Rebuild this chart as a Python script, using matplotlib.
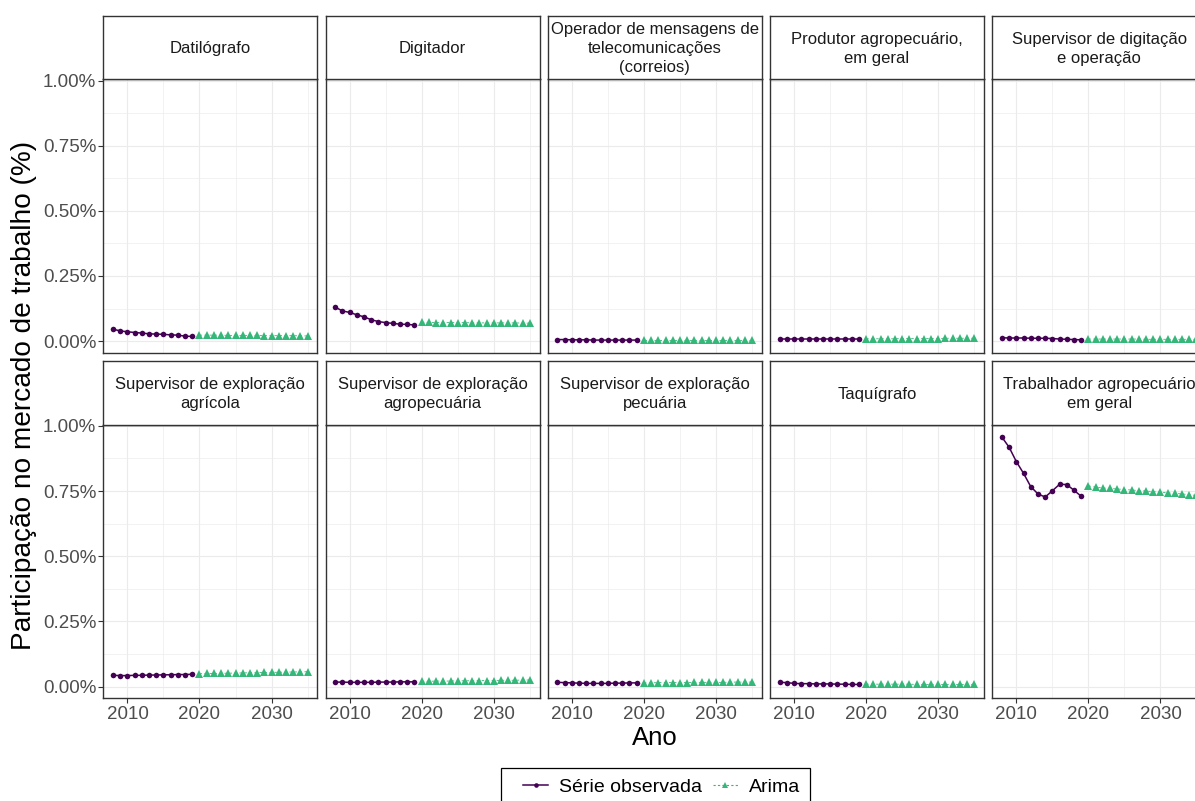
import matplotlib
matplotlib.use("Agg")
import matplotlib.pyplot as plt
from matplotlib.lines import Line2D
from matplotlib.patches import Rectangle
from matplotlib.ticker import FixedLocator, FuncFormatter

plt.rcParams["font.family"] = ["Liberation Sans", "DejaVu Sans"]

# ---- data -------------------------------------------------------------
anos_obs = [2008, 2009, 2010, 2011, 2012, 2013, 2014, 2015, 2016, 2017, 2018, 2019]
anos_arima = [2020, 2021, 2022, 2023, 2024, 2025, 2026, 2027,
              2028, 2029, 2030, 2031, 2032, 2033, 2034, 2035]

ocupacoes = [
    "Datilógrafo",
    "Digitador",
    "Operador de mensagens de\ntelecomunicações\n(correios)",
    "Produtor agropecuário,\nem geral",
    "Supervisor de digitação\ne operação",
    "Supervisor de exploração\nagrícola",
    "Supervisor de exploração\nagropecuária",
    "Supervisor de exploração\npecuária",
    "Taquígrafo",
    "Trabalhador agropecuário\nem geral",
]

obs_datilografo = [0.046, 0.039, 0.036, 0.033, 0.031, 0.028, 0.027, 0.026, 0.024, 0.023, 0.019, 0.018]
obs_digitador = [0.130, 0.116, 0.110, 0.101, 0.093, 0.082, 0.075, 0.071, 0.068, 0.065, 0.064, 0.062]
obs_operador = [0.006, 0.006, 0.005, 0.005, 0.005, 0.004, 0.004, 0.004, 0.004, 0.004, 0.004, 0.004]
obs_produtor = [0.008, 0.008, 0.008, 0.008, 0.008, 0.008, 0.008, 0.008, 0.008, 0.008, 0.008, 0.008]
obs_sup_digitacao = [0.013, 0.012, 0.012, 0.012, 0.011, 0.011, 0.011, 0.010, 0.008, 0.007, 0.006, 0.005]
obs_sup_agricola = [0.043, 0.042, 0.042, 0.043, 0.043, 0.044, 0.044, 0.045, 0.045, 0.046, 0.046, 0.047]
obs_sup_agropecuaria = [0.017, 0.017, 0.016, 0.016, 0.016, 0.016, 0.017, 0.017, 0.017, 0.018, 0.018, 0.018]
obs_sup_pecuaria = [0.016, 0.015, 0.014, 0.013, 0.012, 0.012, 0.012, 0.012, 0.013, 0.013, 0.014, 0.014]
obs_taquigrafo = [0.016, 0.015, 0.012, 0.011, 0.011, 0.010, 0.010, 0.010, 0.009, 0.009, 0.008, 0.008]
obs_trabalhador = [0.957, 0.918, 0.863, 0.818, 0.767, 0.739, 0.727, 0.751, 0.776, 0.775, 0.753, 0.730]

arima_datilografo = [0.023, 0.023, 0.023, 0.023, 0.022, 0.022, 0.022, 0.022,
                     0.022, 0.021, 0.021, 0.021, 0.021, 0.021, 0.020, 0.020]
arima_digitador = [0.072, 0.072, 0.071, 0.071, 0.071, 0.071, 0.071, 0.070,
                   0.070, 0.070, 0.070, 0.070, 0.070, 0.070, 0.069, 0.069]
arima_operador = [0.005, 0.005, 0.005, 0.005, 0.005, 0.005, 0.005, 0.005,
                  0.005, 0.005, 0.005, 0.005, 0.005, 0.005, 0.005, 0.005]
arima_produtor = [0.009, 0.009, 0.009, 0.009, 0.009, 0.010, 0.010, 0.010,
                  0.010, 0.010, 0.010, 0.011, 0.011, 0.011, 0.011, 0.011]
arima_sup_digitacao = [0.008, 0.008, 0.008, 0.008, 0.008, 0.008, 0.008, 0.008,
                       0.007, 0.007, 0.007, 0.007, 0.007, 0.007, 0.007, 0.007]
arima_sup_agricola = [0.049, 0.050, 0.050, 0.051, 0.051, 0.052, 0.052, 0.053,
                      0.053, 0.054, 0.054, 0.055, 0.055, 0.056, 0.056, 0.057]
arima_sup_agropecuaria = [0.020, 0.020, 0.021, 0.021, 0.021, 0.022, 0.022, 0.022,
                          0.023, 0.023, 0.023, 0.024, 0.024, 0.024, 0.025, 0.025]
arima_sup_pecuaria = [0.014, 0.014, 0.015, 0.015, 0.015, 0.015, 0.015, 0.016,
                      0.016, 0.016, 0.016, 0.016, 0.017, 0.017, 0.017, 0.017]
arima_taquigrafo = [0.009, 0.009, 0.009, 0.009, 0.009, 0.009, 0.009, 0.008,
                    0.008, 0.008, 0.008, 0.008, 0.008, 0.008, 0.008, 0.008]
arima_trabalhador = [0.770, 0.765, 0.762, 0.760, 0.758, 0.756, 0.754, 0.752,
                     0.750, 0.748, 0.746, 0.743, 0.741, 0.739, 0.736, 0.733]

series_obs = [obs_datilografo, obs_digitador, obs_operador, obs_produtor, obs_sup_digitacao,
              obs_sup_agricola, obs_sup_agropecuaria, obs_sup_pecuaria, obs_taquigrafo,
              obs_trabalhador]
series_arima = [arima_datilografo, arima_digitador, arima_operador, arima_produtor,
                arima_sup_digitacao, arima_sup_agricola, arima_sup_agropecuaria,
                arima_sup_pecuaria, arima_taquigrafo, arima_trabalhador]

y_ticks = [0.0, 0.25, 0.5, 0.75, 1.0]
y_minor = [0.125, 0.375, 0.625, 0.875]
x_ticks = [2010, 2020, 2030]
x_minor = [2005, 2015, 2025, 2035]

# ---- styling ------------------------------------------------------------
COR_OBS = "#440154"
COR_ARIMA = "#35B779"
BORDA = "#333333"
GRID = "#EBEBEB"
TICK_TXT = "#4D4D4D"

W, H = 1195, 801
fig = plt.figure(figsize=(W / 100, H / 100), dpi=100)
fig.patch.set_facecolor("white")


def rect(left, top, width, height):
    return [left / W, 1 - (top + height) / H, width / W, height / H]


col_left = [103.3, 325.5, 547.7, 770.0, 992.2]
panel_w = 214.0
row_top = [79.3, 424.7]
panel_h = 273.2
strip_h = 63.6

# shared limits (5% expansion on both axes)
all_y = [v for s in series_obs + series_arima for v in s]
y_lo, y_hi = min(all_y), max(all_y)
y_pad = 0.05 * (y_hi - y_lo)
all_x = anos_obs + anos_arima
x_lo, x_hi = min(all_x), max(all_x)
x_pad = 0.05 * (x_hi - x_lo)

pct = FuncFormatter(lambda v, _: f"{v:.2f}%")

for i, nome in enumerate(ocupacoes):
    r, c = divmod(i, 5)
    ax = fig.add_axes(rect(col_left[c], row_top[r], panel_w, panel_h))
    ax.set_xlim(x_lo - x_pad, x_hi + x_pad)
    ax.set_ylim(y_lo - y_pad, y_hi + y_pad)
    ax.set_facecolor("white")

    ax.yaxis.set_major_locator(FixedLocator(y_ticks))
    ax.yaxis.set_minor_locator(FixedLocator(y_minor))
    ax.xaxis.set_major_locator(FixedLocator(x_ticks))
    ax.xaxis.set_minor_locator(FixedLocator(x_minor))
    ax.yaxis.set_major_formatter(pct)
    ax.grid(which="major", color=GRID, linewidth=0.8, zorder=0)
    ax.grid(which="minor", color=GRID, linewidth=0.45, zorder=0)
    ax.set_axisbelow(True)

    for sp in ax.spines.values():
        sp.set_color(BORDA)
        sp.set_linewidth(1.0)

    ax.tick_params(which="minor", length=0)
    ax.tick_params(which="major", length=3.6, width=0.8, color=BORDA,
                   labelsize=13.5, labelcolor=TICK_TXT)
    ax.tick_params(axis="y", pad=1.4)
    ax.tick_params(axis="x", pad=2.4)
    if c != 0:
        ax.tick_params(axis="y", left=False, labelleft=False)
    if r != 1:
        ax.tick_params(axis="x", bottom=False, labelbottom=False)

    ax.plot(anos_arima, series_arima[i], color=COR_ARIMA, linewidth=0.6,
            linestyle=(0, (3, 3)), marker="^", markersize=5.4,
            markeredgewidth=0, zorder=3)
    ax.plot(anos_obs, series_obs[i], color=COR_OBS, linewidth=1.1,
            marker="o", markersize=4.0, markeredgewidth=0, zorder=4)

    sax = fig.add_axes(rect(col_left[c], row_top[r] - strip_h, panel_w, strip_h))
    sax.set_xticks([])
    sax.set_yticks([])
    sax.set_facecolor("white")
    for sp in sax.spines.values():
        sp.set_color(BORDA)
        sp.set_linewidth(1.0)
    sax.text(0.5, 0.48, nome, ha="center", va="center", fontsize=12,
             color="#1A1A1A", linespacing=1.35, transform=sax.transAxes)

fig.text(24 / W, 1 - 395 / H, "Participação no mercado de trabalho (%)",
         rotation=90, ha="center", va="center", fontsize=20.2, color="black")
fig.text(655 / W, 1 - 738 / H, "Ano", ha="center", va="center",
         fontsize=18.5, color="black")

# legend: frame drawn separately so its box can run past the bottom edge
fig.patches.append(Rectangle((501 / W, 1 - 812 / H), 309 / W, 44 / H,
                             transform=fig.transFigure, facecolor="white",
                             edgecolor="black", linewidth=0.9, zorder=5))
handles = [
    Line2D([], [], color=COR_OBS, linewidth=1.1, marker="o", markersize=3.3,
           markeredgewidth=0),
    Line2D([], [], color=COR_ARIMA, linewidth=0.8, linestyle=(0, (2, 2)),
           marker="^", markersize=4, markeredgewidth=0),
]
leg = fig.legend(handles, ["Série observada", "Arima"], loc="center",
                 bbox_to_anchor=(661.5 / W, 1 - 787 / H), ncol=2, fontsize=14,
                 frameon=False, handlelength=1.3, handletextpad=0.55,
                 columnspacing=0.55, borderpad=0, borderaxespad=0)
leg.set_zorder(6)

fig.savefig("out.png", dpi=100, facecolor="white")
